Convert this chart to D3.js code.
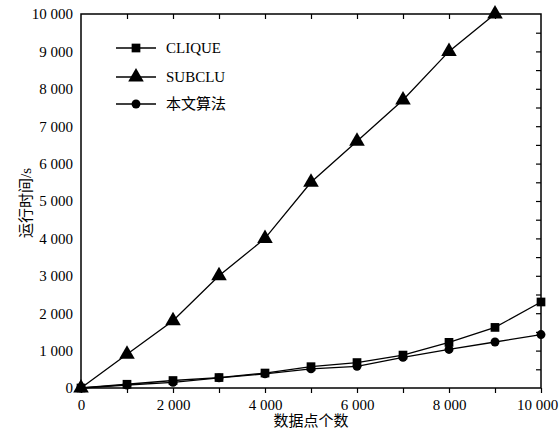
<!DOCTYPE html>
<html>
<head>
<meta charset="utf-8">
<script src="https://cdn.jsdelivr.net/npm/d3@7"></script>
<style>
  body { margin: 0; background: #fff; }
  svg { display: block; }
  text { font-family: "Liberation Serif", "Noto Sans CJK SC", serif; fill: #000; }
</style>
</head>
<body>
<div class="chart"></div>
<script>
// data
var sizes = [0, 1000, 2000, 3000, 4000, 5000, 6000, 7000, 8000, 9000, 10000];
var clique = [0, 100, 200, 280, 400, 570, 680, 880, 1220, 1620, 2300];
var subclu = [0, 900, 1800, 3000, 4000, 5500, 6600, 7700, 9000, 10000];
var ours = [0, 80, 150, 270, 380, 510, 580, 820, 1030, 1230, 1430];
var seriesNames = ["CLIQUE", "SUBCLU", "本文算法"];
var xTickLabels = [0, 2000, 4000, 6000, 8000, 10000];
var yTickLabels = [0, 1000, 2000, 3000, 4000, 5000, 6000, 7000, 8000, 9000, 10000];

var width = 560, height = 437;
var margin = { top: 14, right: 19, bottom: 49, left: 81 };
var innerW = width - margin.left - margin.right;
var innerH = height - margin.top - margin.bottom;

var svg = d3.select('.chart').append('svg')
    .attr('width', width)
    .attr('height', height);
var g = svg.append('g')
    .attr('transform', 'translate(' + margin.left + ',' + margin.top + ')');

var x = d3.scaleLinear().domain([0, 10000]).range([0, innerW]);
var y = d3.scaleLinear().domain([0, 10000]).range([innerH, 0]);

// "10 000" style numbers
var fmt = d3.formatLocale({ decimal: ".", thousands: " ", grouping: [3], currency: ["", ""] }).format(",d");

// frame
g.append('rect')
    .attr('width', innerW)
    .attr('height', innerH)
    .attr('fill', 'none')
    .attr('stroke', '#000')
    .attr('stroke-width', 1.5);

// bottom axis: ticks every 1000 pointing out, labels every 2000
var axBottom = g.append('g')
    .attr('transform', 'translate(0,' + innerH + ')')
    .call(d3.axisBottom(x).tickValues(d3.range(0, 10001, 1000)).tickSize(5).tickPadding(6)
        .tickFormat(function(d) { return xTickLabels.indexOf(d) >= 0 ? fmt(d) : ''; }));
// top axis: ticks pointing in
var axTop = g.append('g')
    .call(d3.axisBottom(x).tickValues(d3.range(1000, 10000, 1000)).tickSize(5).tickFormat(''));
// right axis: ticks every 500 pointing in
var axRight = g.append('g')
    .attr('transform', 'translate(' + innerW + ',0)')
    .call(d3.axisLeft(y).tickValues(d3.range(500, 10000, 500)).tickSize(5).tickFormat(''));
// left axis: labels only
var axLeft = g.append('g')
    .call(d3.axisLeft(y).tickValues(yTickLabels).tickSize(0).tickPadding(8).tickFormat(fmt));

[axBottom, axTop, axRight, axLeft].forEach(function(a) {
    a.select('.domain').remove();
    a.selectAll('line').attr('stroke', '#000').attr('stroke-width', 1.2);
    a.selectAll('text').attr('font-size', '15px').attr('font-family', '"Liberation Serif", serif');
});
// keep the last x label inside the picture
axBottom.selectAll('.tick')
    .filter(function(d) { return d === 10000; })
    .select('text')
    .attr('dx', -4);

// axis titles
svg.append('text')
    .attr('x', margin.left + innerW / 2)
    .attr('y', 426)
    .attr('text-anchor', 'middle')
    .attr('font-size', '15px')
    .text('数据点个数');
svg.append('text')
    .attr('transform', 'translate(31,' + 203 + ') rotate(-90)')
    .attr('text-anchor', 'middle')
    .attr('font-size', '15px')
    .text('运行时间/s');

var line = d3.line()
    .x(function(d, i) { return x(sizes[i]); })
    .y(function(d) { return y(d); });

var series = [
    { name: seriesNames[0], values: clique, symbol: d3.symbolSquare, size: 76 },
    { name: seriesNames[1], values: subclu, symbol: d3.symbolTriangle, size: 105 },
    { name: seriesNames[2], values: ours, symbol: d3.symbolCircle, size: 62 }
];

series.forEach(function(s) {
    g.append('path')
        .attr('d', line(s.values))
        .attr('fill', 'none')
        .attr('stroke', '#000')
        .attr('stroke-width', 1.3);
    g.selectAll(null)
        .data(s.values)
        .enter()
        .append('path')
        .attr('transform', function(d, i) { return 'translate(' + x(sizes[i]) + ',' + y(d) + ')'; })
        .attr('d', d3.symbol().type(s.symbol).size(s.size))
        .attr('fill', '#000');
});

// legend
var legend = svg.append('g');
var legendY = [48, 77, 104];
series.forEach(function(s, i) {
    var row = legend.append('g').attr('transform', 'translate(116,' + legendY[i] + ')');
    row.append('line')
        .attr('x1', 0).attr('x2', 40)
        .attr('stroke', '#000').attr('stroke-width', 1.3);
    row.append('path')
        .attr('transform', 'translate(20,0)')
        .attr('d', d3.symbol().type(s.symbol).size(s.size))
        .attr('fill', '#000');
    row.append('text')
        .attr('x', 50)
        .attr('dy', '0.35em')
        .attr('font-size', '15px')
        .text(s.name);
});
</script>
</body>
</html>
